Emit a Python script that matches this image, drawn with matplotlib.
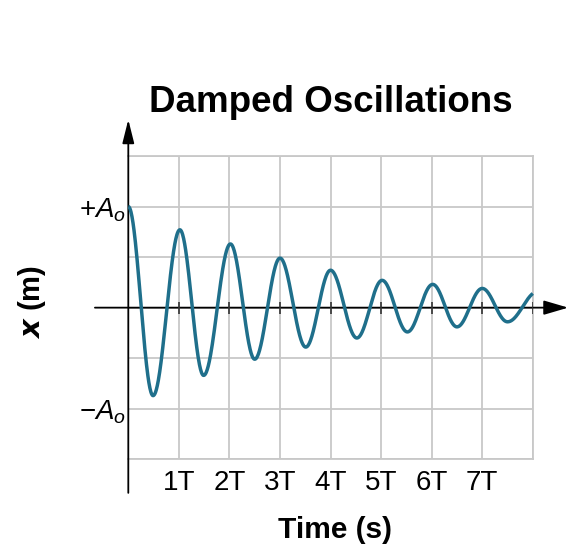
import numpy as np
import matplotlib
matplotlib.use("Agg")
import matplotlib.pyplot as plt

plt.rcParams["font.family"] = ["Liberation Sans", "DejaVu Sans"]
plt.rcParams["mathtext.fontset"] = "custom"
plt.rcParams["mathtext.rm"] = "Liberation Sans"
plt.rcParams["mathtext.it"] = "Liberation Sans:italic"
plt.rcParams["mathtext.bf"] = "Liberation Sans:bold"

# turning points of the curve (time in T, x in A0)
ext_t = [0.0, 0.49, 1.02, 1.49, 2.02, 2.5, 3.0, 3.51, 4.0, 4.52, 5.02, 5.52, 6.02, 6.5, 7.0, 7.5, 8.1]
ext_x = [1.0, -0.87, 0.77, -0.67, 0.63, -0.51, 0.49, -0.39, 0.37, -0.30, 0.27, -0.24, 0.23, -0.19, 0.19, -0.14, 0.16]

tick_pos = [1, 2, 3, 4, 5, 6, 7]
tick_labels = ["1T", "2T", "3T", "4T", "5T", "6T", "7T"]
ylab_pos = [1.0, -1.0]
ylab_text = [r"$+A_o$", r"$-A_o$"]

curve_color = "#1f6f8b"
grid_color = "#c8c8c8"

# smooth half-cosine between consecutive turning points
et = np.array(ext_t)
ex = np.array(ext_x)
t = np.linspace(0, 8, 1200)
k = np.clip(np.searchsorted(et, t, side="right") - 1, 0, len(et) - 2)
frac = (t - et[k]) / (et[k + 1] - et[k])
x = (ex[k] + ex[k + 1]) / 2 + (ex[k] - ex[k + 1]) / 2 * np.cos(np.pi * frac)

fig = plt.figure(figsize=(5.70, 5.51), dpi=100)
ax = fig.add_axes([128.3 / 570, 1 - 459.3 / 551, 404.5 / 570, 303.3 / 551])
ax.set_xlim(0, 8)
ax.set_ylim(-1.5, 1.5)

xgrid = list(range(0, 9))
ygrid = [-1.5, -1.0, -0.5, 0.0, 0.5, 1.0, 1.5]
xlab = dict(zip(tick_pos, tick_labels))
ylab = dict(zip(ylab_pos, ylab_text))
ax.set_xticks(xgrid)
ax.set_xticklabels([xlab.get(v, "") for v in xgrid], fontsize=20)
ax.set_yticks(ygrid)
ax.set_yticklabels([ylab.get(v, "") for v in ygrid], fontsize=20)
ax.tick_params(axis="x", length=0, pad=8)
ax.tick_params(axis="y", length=0, pad=2)
ax.grid(True, color=grid_color, lw=1.3)
ax.set_axisbelow(True)
for s in ax.spines.values():
    s.set_color(grid_color)
    s.set_linewidth(1.3)
ax.spines["left"].set_visible(False)

ax.plot(t, x, color=curve_color, lw=2.5, clip_on=False, zorder=4, solid_capstyle="butt")

# axes with arrows
ax.annotate("", xy=(8.70, 0), xytext=(-0.66, 0), annotation_clip=False,
            arrowprops=dict(arrowstyle="-|>,head_length=0.75,head_width=0.22",
                            mutation_scale=20, color="black", lw=1.3,
                            shrinkA=0, shrinkB=0), zorder=3)
ax.annotate("", xy=(0, 1.86), xytext=(0, -1.832), annotation_clip=False,
            arrowprops=dict(arrowstyle="-|>,head_length=0.72,head_width=0.18",
                            mutation_scale=20, color="black", lw=1.3,
                            shrinkA=0, shrinkB=0), zorder=3)
ax.vlines(range(1, 9), -0.06, 0.06, color="#333333", lw=1.2, zorder=3)

fig.text(331 / 570, 1 - 103 / 551, "Damped Oscillations", fontsize=26.5,
         fontweight="bold", ha="center", va="center")
fig.text(335 / 570, 1 - 530 / 551, "Time (s)", fontsize=21.5,
         fontweight="bold", ha="center", va="center")
fig.text(32 / 570, 1 - 302 / 551, r"$\boldsymbol{x}$ (m)", fontsize=21,
         fontweight="bold", ha="center", va="center", rotation=90)

fig.savefig("out.png", dpi=100)
